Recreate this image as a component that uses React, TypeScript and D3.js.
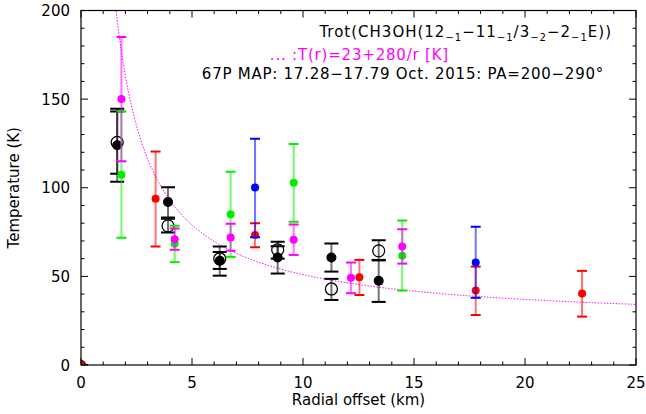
import React from "react";
import * as d3 from "d3";

const W = 646, H = 414;
const M = { left: 81, right: 636, top: 10.5, bottom: 365 };

// Black filled
const blackX = [0, 1.63, 3.92, 6.25, 8.86, 11.28, 13.41];
const blackY = [0, 124, 92, 58.8, 60.6, 60.6, 47.5];
const blackLo = [0, 103.4, 83.2, 50.4, 51.6, 52.7, 35.6];
const blackHi = [0, 144.6, 100.3, 66.8, 67, 68.5, 59];
// Black open
const openX = [1.63, 3.92, 6.25, 8.86, 11.28, 13.41];
const openY = [125.6, 78.5, 59.9, 65, 42.9, 64.4];
const openLo = [107.9, 74.7, 54.2, 60, 36.7, 59.3];
const openHi = [143, 82.5, 63.8, 69.5, 48.6, 70.4];
// Red
const redX = [0, 3.36, 7.84, 12.54, 17.78, 22.57];
const redY = [0, 93.8, 73.4, 49.5, 42, 40.3];
const redLo = [0, 66.8, 66.5, 39.5, 28.2, 27.3];
const redHi = [0, 120.5, 80, 59.3, 55.5, 53.1];
// Green
const greenX = [1.82, 4.22, 6.74, 9.58, 14.47];
const greenY = [107.3, 68.4, 85.1, 102.8, 61.6];
const greenLo = [71.8, 58, 61, 80.8, 42];
const greenHi = [143, 78.5, 109, 124.7, 81.5];
// Blue
const blueX = [7.84, 17.78];
const blueY = [100.2, 57.8];
const blueLo = [72.1, 37.9];
const blueHi = [127.7, 78];
// Magenta
const magX = [1.82, 4.22, 6.74, 9.58, 12.16, 14.47];
const magY = [150.1, 71, 71.9, 70.6, 49.2, 66.8];
const magLo = [114.9, 65, 64.4, 62.1, 40.5, 57.2];
const magHi = [185, 77, 79.7, 79.3, 57.8, 76.6];

const xTicks = [0, 5, 10, 15, 20, 25];
const yTicks = [0, 50, 100, 150, 200];

const FONT = "'DejaVu Sans', sans-serif";

export default function App() {
  const x = d3.scaleLinear().domain([0, 25]).range([M.left, M.right]);
  const y = d3.scaleLinear().domain([0, 200]).range([M.bottom, M.top]);

  const curveXs = d3.range(1.5, 25.001, 0.05);
  const line = d3
    .line<number>()
    .x((r) => x(r))
    .y((r) => y(23 + 280 / r));

  const xMinor = d3.range(0, 25.001, 1);
  const yMinor = d3.range(0, 200.001, 10);

  const series = (
    key: string,
    xs: number[],
    ys: number[],
    lo: number[],
    hi: number[],
    color: string,
    capW: number,
    r: number,
    open = false
  ) => (
    <g key={key}>
      {xs.map((xv, i) => (
        <g key={i}>
          <line x1={x(xv)} x2={x(xv)} y1={y(lo[i])} y2={y(hi[i])} stroke={color} strokeOpacity={0.55} strokeWidth={2} />
          <line x1={x(xv) - capW} x2={x(xv) + capW} y1={y(lo[i])} y2={y(lo[i])} stroke={color} strokeWidth={2} />
          <line x1={x(xv) - capW} x2={x(xv) + capW} y1={y(hi[i])} y2={y(hi[i])} stroke={color} strokeWidth={2} />
          {open ? (
            <circle cx={x(xv)} cy={y(ys[i])} r={r} fill="none" stroke={color} strokeWidth={1.3} />
          ) : (
            <circle cx={x(xv)} cy={y(ys[i])} r={r} fill={color} />
          )}
        </g>
      ))}
    </g>
  );

  const sub = (s: string) => (
    <tspan dy={4} fontSize={10}>{s}</tspan>
  );
  const up = (s: string) => <tspan dy={-4}>{s}</tspan>;

  return (
    <svg width={W} height={H} style={{ position: "absolute", left: 0, top: 0, background: "#fff" }}>
      <defs>
        <clipPath id="plot">
          <rect x={M.left} y={M.top} width={M.right - M.left} height={M.bottom - M.top} />
        </clipPath>
      </defs>
      <g clipPath="url(#plot)">
        <path d={line(curveXs) || ""} fill="none" stroke="#ff00ff" strokeWidth={1} strokeDasharray="1.5,1.5" />
        {series("open", openX, openY, openLo, openHi, "#000", 7, 6, true)}
        {series("black", blackX, blackY, blackLo, blackHi, "#000", 7, 5)}
        {series("red", redX, redY, redLo, redHi, "#ff0000", 5, 4)}
        {series("green", greenX, greenY, greenLo, greenHi, "#00ee00", 5, 4)}
        {series("blue", blueX, blueY, blueLo, blueHi, "#0000ff", 5, 4)}
        {series("mag", magX, magY, magLo, magHi, "#ff00ff", 5, 4)}
      </g>
      <rect x={M.left} y={M.top} width={M.right - M.left} height={M.bottom - M.top} fill="none" stroke="#000" strokeWidth={1.2} />
      {xMinor.map((t) => {
        const major = t % 5 === 0;
        const L = major ? 7 : 3.5;
        return (
          <g key={"xt" + t} stroke="#000" strokeWidth={1}>
            <line x1={x(t)} x2={x(t)} y1={M.bottom} y2={M.bottom - L} />
            <line x1={x(t)} x2={x(t)} y1={M.top} y2={M.top + L} />
          </g>
        );
      })}
      {yMinor.map((t) => {
        const major = t % 50 === 0;
        const L = major ? 7 : 3.5;
        return (
          <g key={"yt" + t} stroke="#000" strokeWidth={1}>
            <line x1={M.left} x2={M.left + L} y1={y(t)} y2={y(t)} />
            <line x1={M.right} x2={M.right - L} y1={y(t)} y2={y(t)} />
          </g>
        );
      })}
      {xTicks.map((t) => (
        <text key={"xl" + t} x={x(t)} y={388} textAnchor="middle" fontFamily={FONT} fontSize={15} fill="#000">
          {t}
        </text>
      ))}
      {yTicks.map((t) => (
        <text key={"yl" + t} x={70} y={y(t) + 5.5} textAnchor="end" fontFamily={FONT} fontSize={15} fill="#000">
          {t}
        </text>
      ))}
      <text x={(M.left + M.right) / 2} y={405} textAnchor="middle" fontFamily={FONT} fontSize={15} fill="#000">
        Radial offset (km)
      </text>
      <text transform={`translate(19,${(M.top + M.bottom) / 2}) rotate(-90)`} textAnchor="middle" fontFamily={FONT} fontSize={15} fill="#000">
        Temperature (K)
      </text>
      <text x={612} y={37} textAnchor="end" fontFamily={FONT} fontSize={15} letterSpacing={1} fill="#000">
        Trot(CH3OH(12{sub("−1")}{up("−11")}{sub("−1")}{up("/3")}{sub("−2")}{up("−2")}{sub("−1")}{up("E))")}
      </text>
      <text x={449} y={60} textAnchor="end" fontFamily={FONT} fontSize={15} letterSpacing={0.8} fill="#ff00ff">
        ... :T(r)=23+280/r [K]
      </text>
      <text x={604} y={79} textAnchor="end" fontFamily={FONT} fontSize={15} letterSpacing={0.75} fill="#000">
        67P MAP: 17.28−17.79 Oct. 2015: PA=200−290°
      </text>
    </svg>
  );
}
